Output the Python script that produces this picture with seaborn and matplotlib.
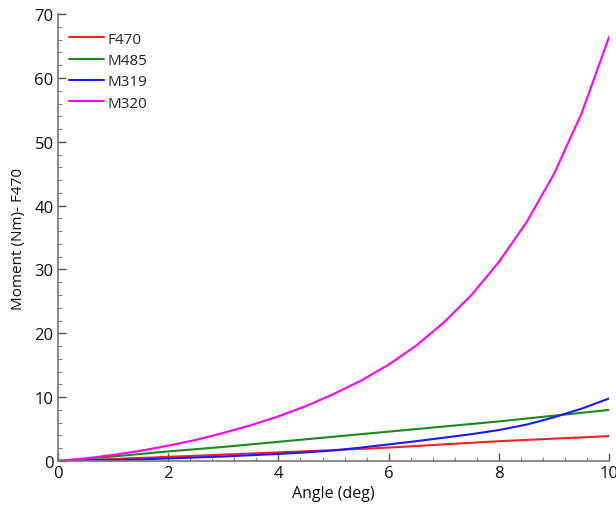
import numpy as np
import pandas as pd
import matplotlib.pyplot as plt
import seaborn as sns
from matplotlib.ticker import MultipleLocator

# Values
angle = [0, 0.5, 1, 1.5, 2, 2.5, 3, 3.5, 4, 4.5, 5,
         5.5, 6, 6.5, 7, 7.5, 8, 8.5, 9, 9.5, 10]
f470 = [0, 0.15, 0.3, 0.48, 0.65, 0.82, 1.0, 1.17, 1.35, 1.52, 1.7,
        1.9, 2.1, 2.35, 2.6, 2.85, 3.1, 3.3, 3.5, 3.7, 3.9]
m485 = [0, 0.35, 0.7, 1.1, 1.5, 1.85, 2.2, 2.6, 3.0, 3.4, 3.8,
        4.2, 4.6, 5.0, 5.4, 5.8, 6.2, 6.65, 7.1, 7.55, 8.0]
m319 = [0, 0.05, 0.15, 0.25, 0.4, 0.55, 0.7, 0.9, 1.1, 1.35, 1.65,
        2.1, 2.6, 3.1, 3.65, 4.2, 4.85, 5.7, 6.85, 8.2, 9.8]
m320 = [0, 0.4, 0.95, 1.6, 2.4, 3.3, 4.4, 5.6, 7.0, 8.6, 10.5,
        12.6, 15.1, 18.1, 21.7, 26.0, 31.2, 37.4, 45.0, 54.5, 66.5]

series = ['F470', 'M485', 'M319', 'M320']
colors = {'F470': '#ff2020', 'M485': '#1a8a1a', 'M319': '#1a1aff', 'M320': '#ff00ff'}

df = pd.DataFrame({'angle': angle, 'F470': f470, 'M485': m485, 'M319': m319, 'M320': m320})
long = df.melt(id_vars='angle', value_vars=series, var_name='sample', value_name='moment')

sns.set_style('white')
plt.rcParams['font.family'] = ['Open Sans', 'DejaVu Sans']

fig = plt.figure(figsize=(6.16, 5.06), dpi=100)
ax = fig.add_axes([0.094, 0.087, 0.895, 0.883])
sns.lineplot(data=long, x='angle', y='moment', hue='sample', hue_order=series,
             palette=colors, linewidth=1.5, ax=ax)

ax.set_xlim(0, 10)
ax.set_ylim(0, 70)
ax.xaxis.set_major_locator(MultipleLocator(2))
ax.xaxis.set_minor_locator(MultipleLocator(0.4))
ax.yaxis.set_major_locator(MultipleLocator(10))
ax.yaxis.set_minor_locator(MultipleLocator(2))
ax.tick_params(which='both', bottom=True, left=True, direction='in')
ax.tick_params(which='major', length=6, width=1, color='#555555',
               labelsize=12, labelcolor='#111111', pad=3)
ax.tick_params(which='minor', length=3, width=0.8, color='#888888')
for side in ['top', 'right']:
    ax.spines[side].set_visible(False)
for side in ['left', 'bottom']:
    ax.spines[side].set_color('#777777')
    ax.spines[side].set_linewidth(1.2)

ax.set_xlabel('Angle (deg)', fontsize=11.5, labelpad=3, color='#111111')
ax.set_ylabel('Moment (Nm)- F470', fontsize=11, labelpad=6, color='#111111')

ax.legend(loc='upper left', bbox_to_anchor=(0.0, 0.985), frameon=False, fontsize=11,
          handlelength=2.3, handletextpad=0.25, labelspacing=0.42, borderaxespad=0.3)

plt.savefig('out.png', dpi=100)
plt.close()
